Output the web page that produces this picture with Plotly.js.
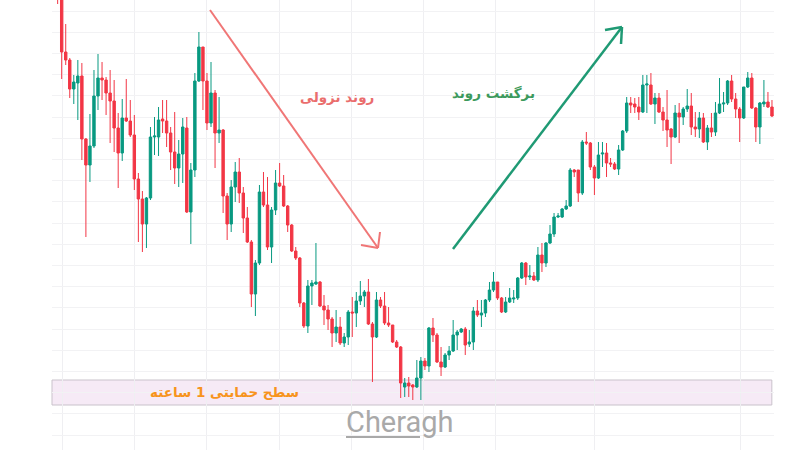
<!DOCTYPE html>
<html>
<head>
<meta charset="utf-8">
<script src="https://cdn.plot.ly/plotly-3.0.1.min.js"></script>
<style>html,body{margin:0;padding:0;background:#fff;}#chart{width:800px;height:450px;}</style>
</head>
<body>
<div id="chart"></div>
<script>
// OHLC values (price units)
const open  = [490,470,398,390,361,367,374,311,285,304,354,372,370,357,349,322,297,332,329,315,271,251,226,252,313,313,331,329,317,298,282,296,322,238,280,369,403,369,327,357,317,320,254,226,263,278,257,232,208,156,187,258,245,203,240,267,264,244,225,199,192,147,124,164,166,168,144,140,131,117,123,107,113,138,137,149,154,158,126,113,150,144,127,125,108,103,63,67,65,63,72,89,84,122,115,88,83,95,99,115,118,121,106,108,139,135,137,150,160,168,152,138,148,151,152,172,187,173,174,170,195,187,207,216,233,233,241,244,280,280,257,308,307,283,272,296,297,287,286,281,300,319,347,346,343,338,365,365,346,352,338,330,321,313,337,333,341,344,323,321,332,308,322,318,337,346,347,369,351,341,332,363,372,342,323,346,348,343];
const high  = [500,480,426,392,375,390,387,312,336,380,396,388,373,380,370,337,351,371,350,335,277,259,253,323,333,343,350,350,323,338,310,332,333,287,377,418,403,377,388,360,353,321,257,270,288,292,263,243,210,190,265,278,273,243,280,287,275,245,226,203,193,148,170,170,207,169,155,145,133,140,133,117,140,153,158,169,160,171,128,158,153,158,143,125,110,104,72,73,66,90,93,92,123,132,117,103,97,104,130,120,122,123,120,143,150,150,151,168,178,168,153,153,162,160,173,188,188,185,178,203,207,208,225,237,237,242,250,282,281,280,310,318,308,285,308,308,307,292,288,305,320,353,353,352,353,375,375,377,357,357,343,360,322,345,347,343,361,357,338,338,337,325,337,348,372,358,370,375,357,343,363,378,377,343,348,370,358,350];
const low   = [446,371,385,352,346,330,290,213,268,302,340,350,335,307,298,262,289,328,313,260,208,198,202,250,295,294,317,303,280,266,263,267,237,206,273,368,340,320,323,282,307,237,210,218,248,247,217,207,143,134,185,243,200,187,235,263,243,218,198,190,143,122,117,145,165,143,125,120,103,108,105,103,105,113,123,145,143,125,68,112,142,125,123,107,102,52,53,53,50,62,50,80,78,108,87,74,82,90,98,100,117,95,103,100,133,123,133,148,158,150,137,137,147,147,150,171,165,170,169,168,178,183,206,213,232,232,240,243,273,248,255,305,280,255,271,283,273,283,280,275,299,317,337,337,330,337,337,345,326,337,319,303,286,312,307,325,338,315,313,312,307,300,313,314,336,338,345,348,332,308,331,362,341,308,306,343,342,333];
const close = [460,398,390,361,368,374,311,285,304,354,372,370,357,349,322,297,332,329,315,271,251,226,252,313,314,330,329,317,298,282,296,323,238,280,369,403,369,327,357,317,320,254,226,263,278,257,232,208,156,187,258,245,203,240,267,264,244,225,199,192,147,124,164,167,168,144,140,131,117,123,107,113,138,137,149,154,158,126,113,150,144,127,125,108,103,67,67,64,63,72,89,84,122,115,88,83,95,99,115,118,121,105,108,139,135,137,150,160,168,152,138,148,152,152,172,187,173,174,170,195,187,207,216,233,234,241,244,280,278,257,308,307,283,272,295,297,287,286,281,300,319,347,345,343,338,365,366,346,352,338,330,320,313,337,333,341,344,323,321,332,308,322,318,337,346,347,369,351,341,332,363,372,342,323,347,348,343,334];
const candleIndex = open.map((_, i) => i);

// text labels
const downLabel = 'روند نزولی';
const upLabel = 'برگشت روند';
const supportLabel = 'سطح حمایتی 1 ساعته';
const logoText = 'Cheragh';
const supportZone = [45, 70];
const vGridAt = [1.32, 19.16, 37.0, 54.9, 72.9, 90.7, 108.5, 132.9, 169.1];

const RED = '#f23645', GREEN = '#089981';
const W = 800, H = 450, ML = 52, MR = 26;
const px = x => (x - ML) / (W - ML - MR);
const py = y => (H - y) / H;

const trace = {
  type: 'candlestick',
  x: candleIndex, open: open, high: high, low: low, close: close,
  increasing: {line: {color: GREEN, width: 1}, fillcolor: GREEN},
  decreasing: {line: {color: RED, width: 1}, fillcolor: RED},
  whiskerwidth: 0, hoverinfo: 'skip', showlegend: false
};

function seg(x0, y0, x1, y1, color, w) {
  return {type: 'line', xref: 'paper', yref: 'paper', x0: px(x0), y0: py(y0), x1: px(x1), y1: py(y1),
          line: {color: color, width: w}, layer: 'above'};
}

const shapes = [
  {type: 'rect', xref: 'paper', yref: 'y', x0: 0, x1: 0.997, y0: supportZone[0], y1: supportZone[1],
   fillcolor: '#f6eaf6', line: {color: '#c9c2cb', width: 1}, layer: 'below'},
  seg(210, 10, 378, 248, '#f07676', 2),
  seg(378, 248, 361, 245, '#f07676', 2),
  seg(378, 248, 380, 232, '#f07676', 2),
  seg(453, 249, 622, 27, '#1f9a74', 2.5),
  seg(622, 27, 605, 30, '#1f9a74', 2.5),
  seg(622, 27, 621, 44, '#1f9a74', 2.5),
  seg(346, 437, 420, 437, '#a9a9a9', 2)
];

function label(text, x, y, font) {
  return {text: '<b>' + text + '</b>', xref: 'paper', yref: 'paper', x: px(x), y: py(y), xanchor: 'center', yanchor: 'middle',
          showarrow: false, font: font};
}

const annotations = [
  label(downLabel, 337, 97, {family: 'DejaVu Sans', size: 13.5, color: '#ea6d6d'}),
  label(upLabel, 493, 93, {family: 'DejaVu Sans', size: 13.5, color: '#3c9a5c'}),
  label(supportLabel, 224, 392, {family: 'DejaVu Sans', size: 13.5, color: '#f7941d'}),
  {text: logoText, xref: 'paper', yref: 'paper', x: px(400), y: py(422), xanchor: 'center', yanchor: 'middle',
   showarrow: false, font: {family: 'Roboto', size: 29, color: '#a9a9a9'}}
];

const layout = {
  width: W, height: H,
  margin: {l: ML, r: MR, t: 0, b: 0, pad: 0},
  paper_bgcolor: '#ffffff', plot_bgcolor: '#ffffff',
  showlegend: false,
  boxgap: 0.15,
  xaxis: {range: [-1.4, 177.5], tickvals: vGridAt, showticklabels: false, ticks: '',
          showgrid: true, gridcolor: '#efeff2', gridwidth: 1, zeroline: false,
          rangeslider: {visible: false}, showline: false, fixedrange: true},
  yaxis: {range: [0, 450], tick0: 15, dtick: 21.2, showticklabels: false, ticks: '',
          showgrid: true, gridcolor: '#f2f2f4', gridwidth: 1, zeroline: false, showline: false, fixedrange: true},
  shapes: shapes,
  annotations: annotations
};

Plotly.newPlot('chart', [trace], layout, {staticPlot: true, displayModeBar: false});
</script>
</body>
</html>
